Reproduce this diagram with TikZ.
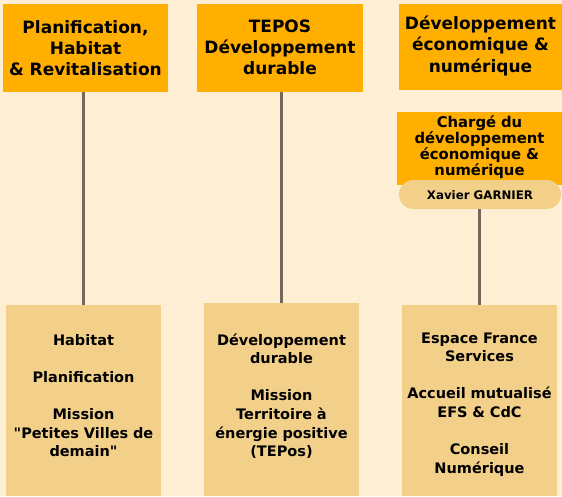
\documentclass[tikz,border=0pt]{standalone}
\usepackage{fontspec}
\setmainfont[Ligatures=TeXOff]{DejaVu Sans}
\definecolor{bg}{HTML}{FEEFD4}
\definecolor{orangebox}{HTML}{FFAF00}
\definecolor{tanbox}{HTML}{F3D089}
\definecolor{linegray}{HTML}{72685C}
\begin{document}
\begin{tikzpicture}[x=1pt,y=-1pt,
  orbox/.style={rectangle, fill=orangebox, draw=none, inner sep=0pt},
  tanbx/.style={rectangle, fill=tanbox, draw=none, inner sep=0pt},
  pill/.style={rectangle, rounded corners=14.5pt, fill=tanbox, draw=none, inner sep=0pt, minimum width=162pt, minimum height=29pt},
  ttl/.style={font=\bfseries\fontsize{17}{21.3}\selectfont, text width=162pt, align=center, anchor=base, inner sep=0pt},
  sub/.style={font=\bfseries\fontsize{14.8}{16}\selectfont, text width=162pt, align=center, anchor=base, inner sep=0pt},
  nm/.style={font=\bfseries\fontsize{11.8}{14}\selectfont, anchor=base, inner sep=0pt},
  body/.style={font=\bfseries\fontsize{14.5}{18.6}\selectfont, text width=152pt, align=center, anchor=base, inner sep=0pt},
  conn/.style={draw=linegray, line width=2.4pt}]
\useasboundingbox (0,0) rectangle (562,496);
\fill[bg] (0,0) rectangle (562,496);

% top boxes
\node[orbox, minimum width=165pt, minimum height=88pt] (t1) at (85.5,48) {};
\node[ttl] (t1txt) at (85.5,33) {Planification,\\Habitat\\\& Revitalisation};
\node[orbox, minimum width=166pt, minimum height=88pt] (t2) at (280,48) {};
\node[ttl] (t2txt) at (280,32) {TEPOS\\Développement\\durable};
\node[orbox, minimum width=163pt, minimum height=86pt] (t3) at (480.5,47) {};
\node[ttl] (t3txt) at (480.5,29.5) {Développement\\économique \&\\numérique};

% charge box and pill
\node[orbox, minimum width=165pt, minimum height=73pt] (c3) at (479.5,148.5) {};
\node[sub] (c3txt) at (479.5,127.5) {Chargé du\\développement\\économique \&\\numérique};
\node[pill] (p3) at (480,194.5) {};
\node[nm] (p3txt) at (480,199) {Xavier GARNIER};

% bottom boxes
\node[tanbx, minimum width=155pt, minimum height=191pt] (b1) at (83.5,400.5) {};
\node[body] (b1txt) at (83.5,345) {Habitat\\[18.6pt]Planification\\[18.6pt]Mission\\"Petites Villes de\\demain"};
\node[tanbx, minimum width=155pt, minimum height=193pt] (b2) at (281.5,399.5) {};
\node[body] (b2txt) at (281.5,345) {Développement\\durable\\[18.6pt]Mission\\Territoire à\\énergie positive\\(TEPos)};
\node[tanbx, minimum width=155pt, minimum height=191pt] (b3) at (479.5,400.5) {};
\node[body] (b3txt) at (479.5,343) {Espace France\\Services\\[18.6pt]Accueil mutualisé\\EFS \& CdC\\[18.6pt]Conseil\\Numérique};

% connectors
\draw[conn] (b1.north) -- (b1.north |- t1.south);
\draw[conn] (b2.north) -- (b2.north |- t2.south);
\draw[conn] (b3.north) -- (b3.north |- p3.south);
\end{tikzpicture}
\end{document}
